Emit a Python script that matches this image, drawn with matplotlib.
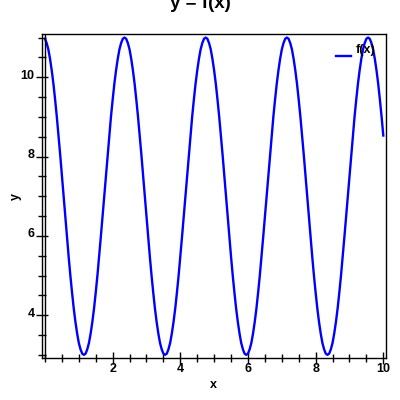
import numpy as np
import matplotlib
matplotlib.use("Agg")
import matplotlib.pyplot as plt
import matplotlib.transforms as mtransforms
from matplotlib.ticker import MultipleLocator

plt.rcParams['font.family'] = ['Liberation Sans', 'DejaVu Sans']
plt.rcParams['font.weight'] = 'bold'

# f(x), every 0.05 from x = 0 to 10
fx = [
    10.97, 10.86, 10.70, 10.46, 10.17, 9.83, 9.43, 9.00, 8.53, 8.04, 7.52, 7.00,
    6.48, 5.97, 5.47, 5.00, 4.57, 4.17, 3.83, 3.54, 3.30, 3.14, 3.03, 3.00,
    3.03, 3.14, 3.30, 3.54, 3.83, 4.17, 4.57, 5.00, 5.47, 5.97, 6.48, 7.00,
    7.52, 8.04, 8.53, 9.00, 9.43, 9.83, 10.17, 10.46, 10.70, 10.86, 10.97, 11.00,
    10.97, 10.86, 10.70, 10.46, 10.17, 9.83, 9.43, 9.00, 8.53, 8.04, 7.52, 7.00,
    6.48, 5.97, 5.47, 5.00, 4.57, 4.17, 3.83, 3.54, 3.30, 3.14, 3.03, 3.00,
    3.03, 3.14, 3.30, 3.54, 3.83, 4.17, 4.57, 5.00, 5.47, 5.97, 6.48, 7.00,
    7.52, 8.04, 8.53, 9.00, 9.43, 9.83, 10.17, 10.46, 10.70, 10.86, 10.97, 11.00,
    10.97, 10.86, 10.70, 10.46, 10.17, 9.83, 9.43, 9.00, 8.53, 8.04, 7.52, 7.00,
    6.48, 5.97, 5.47, 5.00, 4.57, 4.17, 3.83, 3.54, 3.30, 3.14, 3.03, 3.00,
    3.03, 3.14, 3.30, 3.54, 3.83, 4.17, 4.57, 5.00, 5.47, 5.97, 6.48, 7.00,
    7.52, 8.04, 8.53, 9.00, 9.43, 9.83, 10.17, 10.46, 10.70, 10.86, 10.97, 11.00,
    10.97, 10.86, 10.70, 10.46, 10.17, 9.83, 9.43, 9.00, 8.53, 8.04, 7.52, 7.00,
    6.48, 5.97, 5.47, 5.00, 4.57, 4.17, 3.83, 3.54, 3.30, 3.14, 3.03, 3.00,
    3.03, 3.14, 3.30, 3.54, 3.83, 4.17, 4.57, 5.00, 5.47, 5.97, 6.48, 7.00,
    7.52, 8.04, 8.53, 9.00, 9.43, 9.83, 10.17, 10.46, 10.70, 10.86, 10.97, 11.00,
    10.97, 10.86, 10.70, 10.46, 10.17, 9.83, 9.43, 9.00, 8.53,
]
x = np.linspace(0, 10, len(fx))

fig, ax = plt.subplots(figsize=(4, 4), dpi=100)
fig.subplots_adjust(left=0.104, right=0.965, bottom=0.104, top=0.915)

ax.plot(x, fx, color='blue', lw=1.7, label='f(x)')
ax.axvline(0, color='black', lw=1)

ax.set_xlim(-0.1, 10.08)
ax.set_ylim(2.91, 11.09)

ax.xaxis.set_minor_locator(MultipleLocator(0.5))
ax.yaxis.set_minor_locator(MultipleLocator(0.5))
ax.set_xticks([2, 4, 6, 8, 10])
ax.set_yticks([4, 6, 8, 10])

ax.tick_params(which='both', direction='inout', top=False, right=False,
               labelsize=9, width=1)
ax.tick_params(which='major', length=8)
ax.tick_params(which='minor', length=6)
ax.tick_params(axis='x', pad=-1)
ax.tick_params(axis='y', pad=1)
for s in ax.spines.values():
    s.set_linewidth(1)

# y tick labels sit a little above their ticks
up = mtransforms.ScaledTranslation(0, 3 / 100, fig.dpi_scale_trans)
for lbl in ax.get_yticklabels():
    lbl.set_transform(lbl.get_transform() + up)

ax.set_xlabel('x', fontsize=9, fontweight='bold', labelpad=3)
ax.set_ylabel('y', fontsize=9, fontweight='bold', labelpad=-1)

fig.text(0.5, 1 - 8 / 400, 'y = f(x)', ha='center', va='baseline',
         fontsize=13.5, fontweight='bold')

leg = ax.legend(loc='upper right', frameon=False, fontsize=9, handlelength=1.2,
                handletextpad=0.4, borderaxespad=0.4)
# legend line sits lower than its label
down = mtransforms.ScaledTranslation(0, -7 / 100, fig.dpi_scale_trans)
for h in leg.get_lines():
    h.set_transform(h.get_transform() + down)

fig.savefig('out.png', dpi=100)
